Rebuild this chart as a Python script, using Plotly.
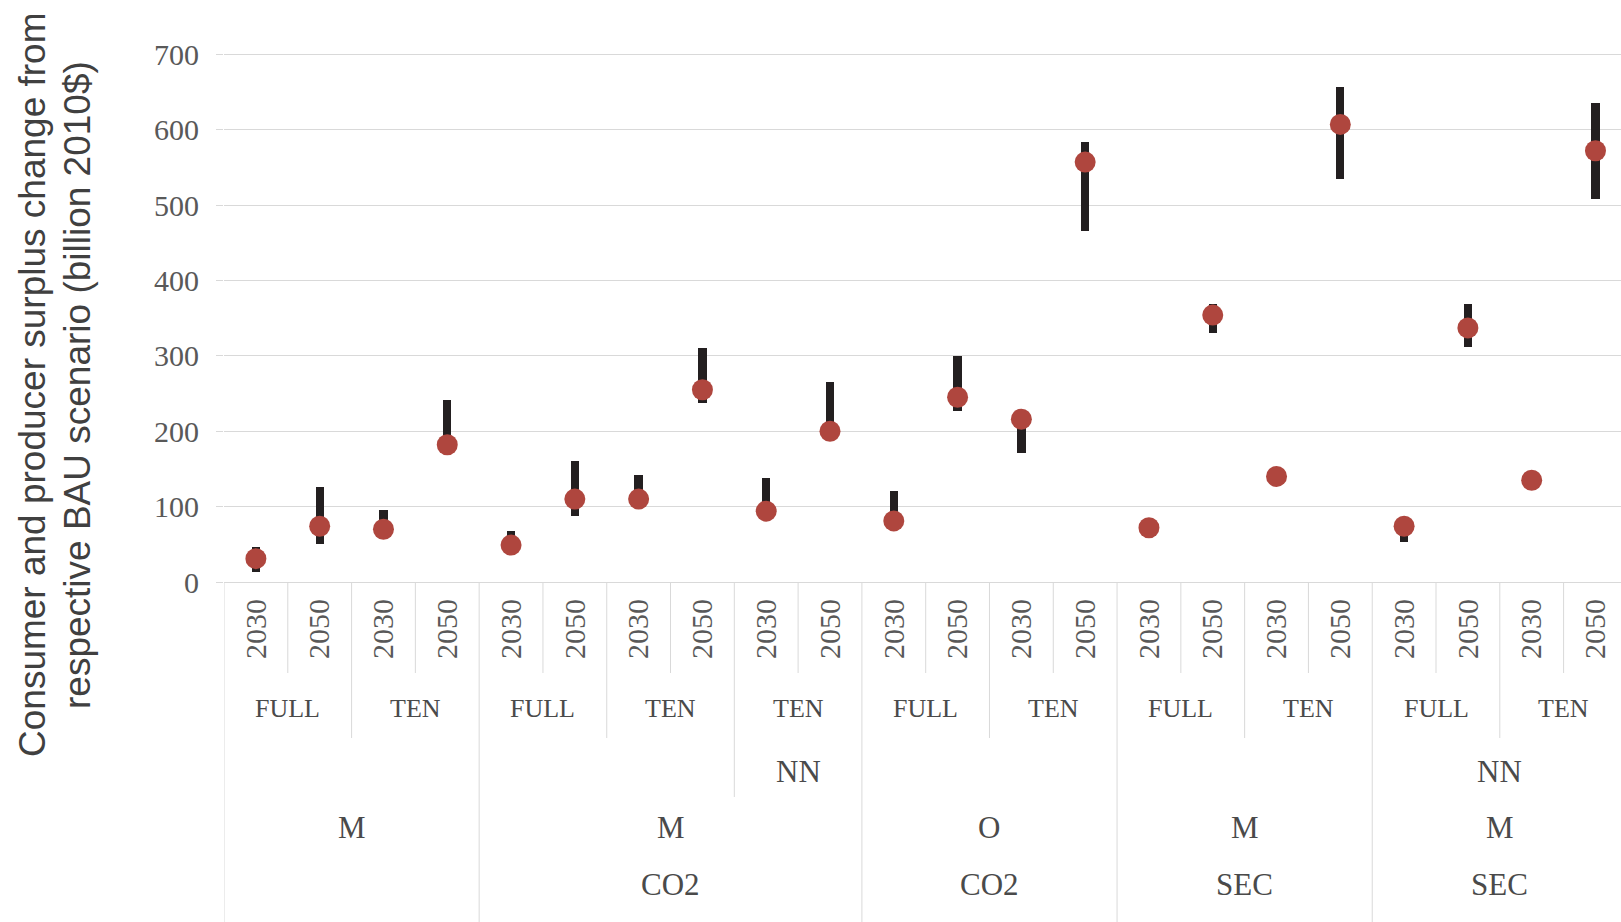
import plotly.graph_objects as go

# --- data -----------------------------------------------------------------
years = ["2030", "2050"] * 11
central = [31, 74, 70, 182, 49, 110, 110, 255, 94, 200,
           81, 245, 216, 557, 72, 354, 140, 607, 74, 337, 135, 572]
low = [13, 51, 66, 178, 45, 88, 105, 238, 90, 196,
       77, 227, 171, 466, 68, 330, 136, 535, 53, 312, 131, 508]
high = [47, 126, 96, 242, 67, 160, 142, 311, 138, 265,
        121, 300, 220, 584, 76, 369, 144, 657, 77, 369, 139, 635]

# category groups per label tier: (label, first index, last index)
tier_policy = [("FULL", 0, 1), ("TEN", 2, 3), ("FULL", 4, 5), ("TEN", 6, 7),
               ("TEN", 8, 9), ("FULL", 10, 11), ("TEN", 12, 13), ("FULL", 14, 15),
               ("TEN", 16, 17), ("FULL", 18, 19), ("TEN", 20, 21)]
tier_network = [("NN", 8, 9), ("NN", 18, 21)]
tier_model = [("M", 0, 3), ("M", 4, 9), ("O", 10, 13), ("M", 14, 17), ("M", 18, 21)]
tier_target = [("CO2", 4, 9), ("CO2", 10, 13), ("SEC", 14, 17), ("SEC", 18, 21)]

y_title_1 = "Consumer and producer surplus change from"
y_title_2 = "respective BAU scenario (billion 2010$)"

# --- layout constants -----------------------------------------------------
W, H = 1621, 922
Y_MAX = 703
M_L, M_R, M_T, M_B = 224, 0, 52, 340
PLOT_H = H - M_T - M_B
AXIS_PX = H - M_B
PLOT_W = W - M_L - M_R

GRID = "#D9D9D9"
NUM_FONT = dict(family="Liberation Serif, Times New Roman, serif", size=30, color="#595959")
CAT_FONT_S = dict(family="Liberation Serif, Times New Roman, serif", size=26, color="#4a4a4a")
CAT_FONT_L = dict(family="Liberation Serif, Times New Roman, serif", size=31, color="#4a4a4a")


def paper_y(py):
    return (AXIS_PX - py) / PLOT_H


def paper_x(px):
    return (px - M_L) / PLOT_W


idx = list(range(len(years)))

fig = go.Figure()
fig.add_trace(go.Bar(
    x=idx,
    y=[h - l for h, l in zip(high, low)],
    base=low,
    width=0.13,
    marker=dict(color="#231F20", line=dict(width=0)),
    hoverinfo="skip",
))
fig.add_trace(go.Scatter(
    x=idx,
    y=central,
    mode="markers",
    marker=dict(size=21, color="#AF463E"),
))

# separator lines below the axis; depth depends on the outermost group edge
starts_model = {s for _, s, _ in tier_model}
edges_network = {s for _, s, _ in tier_network} | {e + 1 for _, _, e in tier_network}
starts_policy = {s for _, s, _ in tier_policy}
shapes = []
for k in range(len(years)):
    if k in starts_model:
        bottom = H
    elif k in edges_network:
        bottom = 797
    elif k in starts_policy:
        bottom = 738
    else:
        bottom = 673
    shapes.append(dict(type="line", xref="x", yref="paper",
                       x0=k - 0.5, x1=k - 0.5, y0=0, y1=paper_y(bottom),
                       line=dict(color=GRID, width=1)))

annotations = []
for groups, py, font in ((tier_policy, 708, CAT_FONT_S),
                         (tier_network, 771, CAT_FONT_L),
                         (tier_model, 827, CAT_FONT_L),
                         (tier_target, 884, CAT_FONT_L)):
    for label, s, e in groups:
        annotations.append(dict(x=(s + e) / 2, y=paper_y(py), xref="x", yref="paper",
                                text=label, showarrow=False, font=font,
                                xanchor="center", yanchor="middle"))

TITLE_FONT = dict(family="Liberation Sans, Arial, sans-serif", size=37, color="#404040")
for text, px in ((y_title_1, 32), (y_title_2, 77)):
    annotations.append(dict(x=paper_x(px), y=paper_y(385), xref="paper", yref="paper",
                            text=text, textangle=-90, showarrow=False, font=TITLE_FONT,
                            xanchor="center", yanchor="middle"))

fig.update_layout(
    width=W, height=H,
    margin=dict(l=M_L, r=M_R, t=M_T, b=M_B, pad=0),
    paper_bgcolor="white", plot_bgcolor="white",
    showlegend=False,
    bargap=0,
    shapes=shapes,
    annotations=annotations,
    xaxis=dict(
        range=[-0.5, 21.4],
        tickmode="array", tickvals=idx, ticktext=years,
        tickangle=-90, tickfont=NUM_FONT, ticks="",
        ticklabelstandoff=4,
        showgrid=False, zeroline=False,
        showline=True, linecolor=GRID, linewidth=1,
    ),
    yaxis=dict(
        range=[0, Y_MAX], dtick=100, tick0=0,
        showgrid=True, gridcolor=GRID, gridwidth=1,
        zeroline=False, showline=False,
        ticks="outside", ticklen=7, tickcolor=GRID, tickwidth=1,
        tickfont=NUM_FONT, ticklabelstandoff=11,
    ),
)

fig.write_html("out.html")
